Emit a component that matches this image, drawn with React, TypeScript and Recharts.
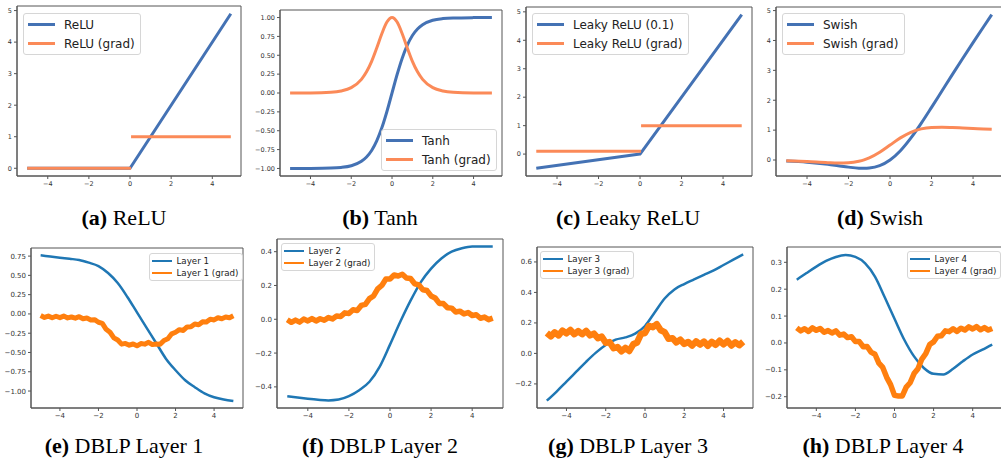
import React from "react";
import { LineChart, Line, XAxis, YAxis, ReferenceArea } from "recharts";

// ---- shared ticks ----
const xTicks = [-4, -2, 0, 2, 4];

// ---- (a) ReLU ----
const reluX = [-5, 0, 4.9];
const reluY = [0, 0, 4.9];
const reluGradLoX = [-5, 0.05];
const reluGradLoY = [0, 0];
const reluGradHiX = [0.05, 4.9];
const reluGradHiY = [1, 1];
const reluTicks = [0, 1, 2, 3, 4, 5];

// ---- (b) Tanh ----
const tanhX = [-5, -4, -3, -2.5, -2, -1.5, -1.25, -1, -0.75, -0.5, -0.25, 0, 0.25, 0.5, 0.75, 1, 1.25, 1.5, 2, 2.5, 3, 4, 4.9];
const tanhY = [-1.0, -0.999, -0.995, -0.987, -0.964, -0.905, -0.848, -0.762, -0.635, -0.462, -0.245, 0, 0.245, 0.462, 0.635, 0.762, 0.848, 0.905, 0.964, 0.987, 0.995, 0.999, 1.0];
const tanhGrad = [0.0002, 0.0013, 0.0099, 0.0266, 0.0707, 0.181, 0.281, 0.42, 0.597, 0.786, 0.94, 1, 0.94, 0.786, 0.597, 0.42, 0.281, 0.181, 0.0707, 0.0266, 0.0099, 0.0013, 0.0002];
const tanhTicks = [-1, -0.75, -0.5, -0.25, 0, 0.25, 0.5, 0.75, 1];

// ---- (c) Leaky ReLU ----
const leakyX = [-5, 0, 4.9];
const leakyY = [-0.5, 0, 4.9];
const leakyGradLoX = [-5, 0.05];
const leakyGradLoY = [0.1, 0.1];
const leakyGradHiX = [0.05, 4.9];
const leakyGradHiY = [1, 1];

// ---- (d) Swish ----
const swishX = [-5, -4, -3, -2.5, -2, -1.5, -1.25, -1, -0.5, 0, 0.5, 1, 1.5, 2, 2.5, 3, 3.5, 4, 4.5, 4.9];
const swishY = [-0.034, -0.072, -0.142, -0.19, -0.238, -0.274, -0.278, -0.269, -0.189, 0, 0.311, 0.731, 1.226, 1.762, 2.31, 2.858, 3.396, 3.928, 4.45, 4.864];
const swishGrad = [-0.027, -0.053, -0.088, -0.099, -0.091, -0.041, 0.006, 0.072, 0.26, 0.5, 0.74, 0.928, 1.041, 1.091, 1.1, 1.088, 1.07, 1.053, 1.038, 1.029];

// ---- DBLP layers ----
const layerX = [-5, -4.5, -4, -3.5, -3, -2.5, -2, -1.5, -1, -0.5, 0, 0.5, 1, 1.5, 2, 2.5, 3, 3.5, 4, 4.5, 5];
const gradX = [
  -5, -4.8, -4.6, -4.4, -4.2, -4, -3.8, -3.6, -3.4, -3.2, -3, -2.8, -2.6, -2.4, -2.2, -2, -1.8, -1.6, -1.4, -1.2,
  -1, -0.8, -0.6, -0.4, -0.2, 0, 0.2, 0.4, 0.6, 0.8, 1, 1.2, 1.4, 1.6, 1.8, 2, 2.2, 2.4, 2.6, 2.8,
  3, 3.2, 3.4, 3.6, 3.8, 4, 4.2, 4.4, 4.6, 4.8, 5,
];

const layer1 = [0.76, 0.745, 0.73, 0.715, 0.7, 0.665, 0.62, 0.53, 0.4, 0.22, 0.02, -0.18, -0.38, -0.58, -0.73, -0.86, -0.95, -1.03, -1.08, -1.11, -1.13];
const layer1Grad = [
  -0.02, -0.045, -0.028, -0.05, -0.03, -0.048, -0.028, -0.052, -0.04, -0.055, -0.036, -0.062, -0.054, -0.078, -0.075, -0.108, -0.122, -0.2, -0.238, -0.31,
  -0.338, -0.392, -0.382, -0.406, -0.39, -0.414, -0.384, -0.392, -0.368, -0.398, -0.39, -0.394, -0.344, -0.322, -0.258, -0.238, -0.204, -0.214, -0.168, -0.166,
  -0.13, -0.14, -0.103, -0.106, -0.068, -0.078, -0.05, -0.062, -0.04, -0.05, -0.024,
];
const layer1Ticks = [-1, -0.75, -0.5, -0.25, 0, 0.25, 0.5, 0.75];

const layer2 = [-0.455, -0.463, -0.47, -0.476, -0.48, -0.475, -0.455, -0.42, -0.37, -0.28, -0.15, -0.015, 0.11, 0.22, 0.3, 0.36, 0.4, 0.42, 0.43, 0.43, 0.43];
const layer2Grad = [
  -0.003, -0.018, -0.005, -0.017, 0.001, -0.01, 0.004, -0.01, 0.003, -0.006, 0.01, 0.002, 0.019, 0.016, 0.038, 0.034, 0.056, 0.052, 0.082, 0.088,
  0.122, 0.138, 0.18, 0.2, 0.238, 0.238, 0.262, 0.256, 0.266, 0.244, 0.241, 0.21, 0.204, 0.175, 0.17, 0.138, 0.126, 0.094, 0.093, 0.068,
  0.066, 0.043, 0.048, 0.032, 0.04, 0.022, 0.027, 0.006, 0.013, -0.002, 0.007,
];
const layer2Ticks = [-0.4, -0.2, 0, 0.2, 0.4];

const layer3 = [-0.31, -0.25, -0.185, -0.12, -0.055, 0.005, 0.055, 0.09, 0.105, 0.13, 0.18, 0.27, 0.36, 0.42, 0.455, 0.485, 0.515, 0.545, 0.58, 0.615, 0.65];
const layer3Grad = [
  0.134, 0.112, 0.138, 0.118, 0.15, 0.132, 0.154, 0.126, 0.146, 0.126, 0.148, 0.118, 0.13, 0.1, 0.11, 0.07, 0.074, 0.034, 0.042, 0.014,
  0.036, 0.016, 0.06, 0.072, 0.128, 0.134, 0.18, 0.172, 0.192, 0.152, 0.14, 0.096, 0.1, 0.072, 0.09, 0.062, 0.075, 0.052, 0.079, 0.058,
  0.078, 0.05, 0.076, 0.056, 0.083, 0.06, 0.082, 0.052, 0.073, 0.054, 0.076,
];
const layer3Ticks = [-0.2, 0, 0.2, 0.4, 0.6];

const layer4 = [0.235, 0.26, 0.284, 0.305, 0.32, 0.327, 0.32, 0.296, 0.247, 0.17, 0.09, 0.012, -0.05, -0.093, -0.115, -0.117, -0.096, -0.068, -0.043, -0.025, -0.006];
const layer4Grad = [
  0.056, 0.045, 0.053, 0.043, 0.056, 0.047, 0.054, 0.04, 0.046, 0.037, 0.045, 0.029, 0.033, 0.02, 0.023, 0.005, 0.005, -0.014, -0.013, -0.034,
  -0.042, -0.075, -0.091, -0.128, -0.155, -0.195, -0.197, -0.197, -0.164, -0.148, -0.114, -0.096, -0.06, -0.04, -0.006, 0.004, 0.025, 0.027, 0.045, 0.042,
  0.053, 0.043, 0.055, 0.048, 0.06, 0.052, 0.061, 0.049, 0.057, 0.048, 0.054,
];
const layer4Ticks = [-0.2, -0.1, 0, 0.1, 0.2, 0.3];

const BLUE_A = "#4472b4";
const ORANGE_A = "#fb8a58";
const BLUE_B = "#1f77b4";
const ORANGE_B = "#ff7f0e";
const AXIS = "#555";

type Pt = { x: number; y: number };
const pts = (xs: number[], ys: number[]): Pt[] => xs.map((x, i) => ({ x, y: ys[i] }));

type Series = { data: Pt[]; color: string; width: number; curve?: "linear" | "monotone" };

type PanelProps = {
  frame: [number, number, number, number];
  xDomain: [number, number];
  yDomain: [number, number];
  yTicks: number[];
  digits: number;
  fontSize: number;
  series: Series[];
};

const fmt = (digits: number) => (v: number) => v.toFixed(digits).replace("-", "\u2212");

const Panel = ({ frame, xDomain, yDomain, yTicks, digits, fontSize, series }: PanelProps) => {
  const [l, t, r, b] = frame;
  const yw = 45;
  const top = 4;
  const right = 4;
  const xh = 22;
  const tick = { fontSize, fill: "#333", fontFamily: "DejaVu Sans" };
  return (
    <div style={{ position: "absolute", left: l - yw, top: t - top }}>
      <LineChart width={r - l + yw + right} height={b - t + top + xh} margin={{ top, right, left: 0, bottom: 0 }}>
        <XAxis
          type="number"
          dataKey="x"
          domain={xDomain}
          allowDataOverflow
          ticks={xTicks}
          interval={0}
          tickFormatter={fmt(0)}
          tick={tick}
          tickSize={3}
          height={xh}
          stroke={AXIS}
        />
        <YAxis
          type="number"
          dataKey="y"
          domain={yDomain}
          allowDataOverflow
          ticks={yTicks}
          interval={0}
          tickFormatter={fmt(digits)}
          tick={tick}
          tickSize={3}
          width={yw}
          stroke={AXIS}
        />
        <ReferenceArea x1={xDomain[0]} x2={xDomain[1]} y1={yDomain[0]} y2={yDomain[1]} fill="none" stroke={AXIS} strokeWidth={1} fillOpacity={0} />
        {series.map((s, i) => (
          <Line
            key={i}
            data={s.data}
            dataKey="y"
            type={s.curve ?? "monotone"}
            stroke={s.color}
            strokeWidth={s.width}
            strokeLinejoin="round"
            dot={false}
            activeDot={false}
            isAnimationActive={false}
          />
        ))}
      </LineChart>
    </div>
  );
};

type LegendProps = {
  left: number;
  top: number;
  items: { label: string; color: string }[];
  small?: boolean;
};

const LegendBox = ({ left, top, items, small }: LegendProps) => {
  const fontSize = small ? 8.7 : 12;
  const rowH = small ? 12 : 19;
  const lineW = small ? 20 : 27;
  const gap = small ? 4.5 : 9.5;
  const padX = small ? 2 : 3.5;
  const thick = small ? 2.5 : 3;
  return (
    <div
      style={{
        position: "absolute",
        left,
        top,
        background: "rgba(255,255,255,0.85)",
        border: "1px solid #d6d6d6",
        borderRadius: 3,
        padding: `1px ${padX + 2}px 1px ${padX}px`,
        fontFamily: "DejaVu Sans",
        fontSize,
        color: "#222",
        lineHeight: 1,
      }}
    >
      {items.map((it) => (
        <div key={it.label} style={{ display: "flex", alignItems: "center", height: rowH, whiteSpace: "nowrap" }}>
          <span style={{ display: "inline-block", width: lineW, height: thick, background: it.color, marginRight: gap }} />
          <span>{it.label}</span>
        </div>
      ))}
    </div>
  );
};

const Caption = ({ cx, top, tag, text }: { cx: number; top: number; tag: string; text: string }) => (
  <div
    style={{
      position: "absolute",
      left: cx - 120,
      width: 240,
      top,
      textAlign: "center",
      fontFamily: "Liberation Serif",
      fontSize: 22,
      lineHeight: 1,
      color: "#000",
      whiteSpace: "nowrap",
    }}
  >
    <b>({tag})</b> {text}
  </div>
);

const topX: [number, number] = [-5.495, 5.395];
const botX: [number, number] = [-5.5, 5.5];

export default function App() {
  return (
    <div style={{ position: "absolute", left: 0, top: 0, width: 1001, height: 462, overflow: "hidden", background: "#fff" }}>
      <Panel
        frame={[17, 6, 241, 176]}
        xDomain={topX}
        yDomain={[-0.245, 5.145]}
        yTicks={reluTicks}
        digits={0}
        fontSize={6.5}
        series={[
          { data: pts(reluX, reluY), color: BLUE_A, width: 3, curve: "linear" },
          { data: pts(reluGradLoX, reluGradLoY), color: ORANGE_A, width: 3, curve: "linear" },
          { data: pts(reluGradHiX, reluGradHiY), color: ORANGE_A, width: 3, curve: "linear" },
        ]}
      />
      <Panel
        frame={[280, 10, 502, 176]}
        xDomain={topX}
        yDomain={[-1.1, 1.1]}
        yTicks={tanhTicks}
        digits={2}
        fontSize={6.5}
        series={[
          { data: pts(tanhX, tanhY), color: BLUE_A, width: 3 },
          { data: pts(tanhX, tanhGrad), color: ORANGE_A, width: 3 },
        ]}
      />
      <Panel
        frame={[526, 7, 752, 176]}
        xDomain={topX}
        yDomain={[-0.77, 5.17]}
        yTicks={reluTicks}
        digits={0}
        fontSize={6.5}
        series={[
          { data: pts(leakyX, leakyY), color: BLUE_A, width: 3, curve: "linear" },
          { data: pts(leakyGradLoX, leakyGradLoY), color: ORANGE_A, width: 3, curve: "linear" },
          { data: pts(leakyGradHiX, leakyGradHiY), color: ORANGE_A, width: 3, curve: "linear" },
        ]}
      />
      <Panel
        frame={[776, 7, 1002, 176]}
        xDomain={topX}
        yDomain={[-0.535, 5.12]}
        yTicks={reluTicks}
        digits={0}
        fontSize={6.5}
        series={[
          { data: pts(swishX, swishY), color: BLUE_A, width: 3 },
          { data: pts(swishX, swishGrad), color: ORANGE_A, width: 3 },
        ]}
      />

      <Panel
        frame={[31, 248, 243, 408]}
        xDomain={botX}
        yDomain={[-1.22, 0.855]}
        yTicks={layer1Ticks}
        digits={2}
        fontSize={7}
        series={[
          { data: pts(layerX, layer1), color: BLUE_B, width: 2.5 },
          { data: pts(gradX, layer1Grad), color: ORANGE_B, width: 5, curve: "linear" },
        ]}
      />
      <Panel
        frame={[277, 239, 503, 408]}
        xDomain={botX}
        yDomain={[-0.525, 0.475]}
        yTicks={layer2Ticks}
        digits={1}
        fontSize={7}
        series={[
          { data: pts(layerX, layer2), color: BLUE_B, width: 2.5 },
          { data: pts(gradX, layer2Grad), color: ORANGE_B, width: 5.5, curve: "linear" },
        ]}
      />
      <Panel
        frame={[537, 247, 753, 408]}
        xDomain={botX}
        yDomain={[-0.358, 0.698]}
        yTicks={layer3Ticks}
        digits={1}
        fontSize={7}
        series={[
          { data: pts(layerX, layer3), color: BLUE_B, width: 2.5 },
          { data: pts(gradX, layer3Grad), color: ORANGE_B, width: 6.5, curve: "linear" },
        ]}
      />
      <Panel
        frame={[787, 247, 1002, 408]}
        xDomain={botX}
        yDomain={[-0.242, 0.357]}
        yTicks={layer4Ticks}
        digits={1}
        fontSize={7}
        series={[
          { data: pts(layerX, layer4), color: BLUE_B, width: 2.5 },
          { data: pts(gradX, layer4Grad), color: ORANGE_B, width: 5.5, curve: "linear" },
        ]}
      />

      <LegendBox left={23} top={13} items={[{ label: "ReLU", color: BLUE_A }, { label: "ReLU (grad)", color: ORANGE_A }]} />
      <LegendBox left={381} top={129} items={[{ label: "Tanh", color: BLUE_A }, { label: "Tanh (grad)", color: ORANGE_A }]} />
      <LegendBox left={532} top={13} items={[{ label: "Leaky ReLU (0.1)", color: BLUE_A }, { label: "Leaky ReLU (grad)", color: ORANGE_A }]} />
      <LegendBox left={782} top={13} items={[{ label: "Swish", color: BLUE_A }, { label: "Swish (grad)", color: ORANGE_A }]} />
      <LegendBox small left={149} top={253} items={[{ label: "Layer 1", color: BLUE_B }, { label: "Layer 1 (grad)", color: ORANGE_B }]} />
      <LegendBox small left={281} top={243} items={[{ label: "Layer 2", color: BLUE_B }, { label: "Layer 2 (grad)", color: ORANGE_B }]} />
      <LegendBox small left={540} top={251} items={[{ label: "Layer 3", color: BLUE_B }, { label: "Layer 3 (grad)", color: ORANGE_B }]} />
      <LegendBox small left={907} top={251} items={[{ label: "Layer 4", color: BLUE_B }, { label: "Layer 4 (grad)", color: ORANGE_B }]} />

      <Caption cx={124} top={207} tag="a" text="ReLU" />
      <Caption cx={380} top={207} tag="b" text="Tanh" />
      <Caption cx={628} top={207} tag="c" text="Leaky ReLU" />
      <Caption cx={880} top={207} tag="d" text="Swish" />
      <Caption cx={124} top={435} tag="e" text="DBLP Layer 1" />
      <Caption cx={380} top={435} tag="f" text="DBLP Layer 2" />
      <Caption cx={628} top={435} tag="g" text="DBLP Layer 3" />
      <Caption cx={883} top={435} tag="h" text="DBLP Layer 4" />
    </div>
  );
}
